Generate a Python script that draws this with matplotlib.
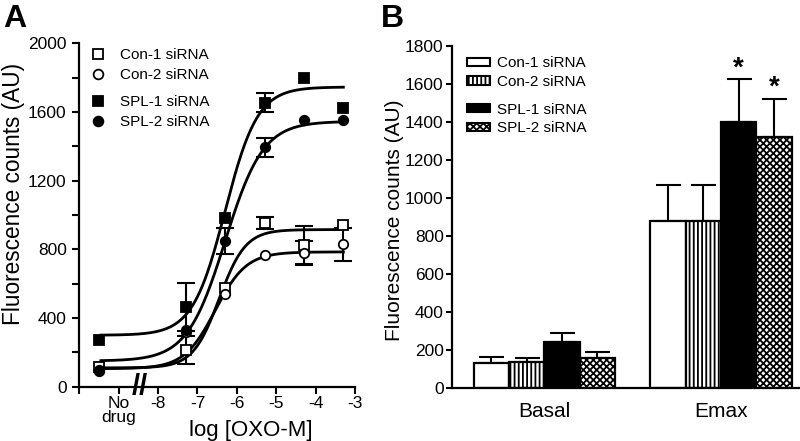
import numpy as np
import matplotlib
matplotlib.use('Agg')
import matplotlib.pyplot as plt
from matplotlib.lines import Line2D
from matplotlib.patches import Patch
from matplotlib.ticker import MultipleLocator

plt.rcParams['font.family'] = ['Liberation Sans', 'DejaVu Sans']
plt.rcParams['hatch.linewidth'] = 1.3

# ---- panel A: concentration-response (x = log [OXO-M], -9.5 = no drug)
log_oxo = [-9.5, -7.3, -6.3, -5.3, -4.3, -3.3]
con1 = [113, 213, 573, 951, 824, 941]
con1_err = [0, 80, 0, 35, 110, 0]
con2 = [100, 320, 539, 766, 776, 829]
con2_err = [0, 0, 0, 0, 70, 96]
spl1 = [272, 466, 980, 1653, 1795, 1620]
spl1_err = [0, 140, 0, 55, 0, 0]
spl2 = [93, 330, 850, 1393, 1552, 1552]
spl2_err = [0, 0, 75, 55, 0, 0]

# sigmoid fit parameters: bottom, top, logEC50, hill
fit_con1 = [110, 915, -6.45, 1.3]
fit_con2 = [105, 785, -6.55, 1.1]
fit_spl1 = [300, 1745, -6.3, 1.05]
fit_spl2 = [150, 1545, -6.3, 0.9]

a_xticks = [-10, -9, -8, -7, -6, -5, -4, -3]
a_xticklabels = ['', 'No\ndrug', '-8', '-7', '-6', '-5', '-4', '-3']

# ---- panel B: basal and Emax
groups = ['Basal', 'Emax']
b_con1 = [132, 875]
b_con1_err = [31, 193]
b_con2 = [137, 875]
b_con2_err = [21, 193]
b_spl1 = [242, 1398]
b_spl1_err = [48, 228]
b_spl2 = [155, 1322]
b_spl2_err = [35, 199]
b_signif = [[False, False], [False, False], [False, True], [False, True]]

labels = ['Con-1 siRNA', 'Con-2 siRNA', 'SPL-1 siRNA', 'SPL-2 siRNA']

fig = plt.figure(figsize=(8, 4.41), dpi=100)
axA = fig.add_axes([0.099, 0.123, 0.345, 0.779])
axB = fig.add_axes([0.565, 0.121, 0.44, 0.775])

for ax in (axA, axB):
    ax.spines['top'].set_visible(False)
    ax.spines['right'].set_visible(False)
    ax.spines['left'].set_linewidth(1.6)
    ax.spines['bottom'].set_linewidth(1.6)

# ---------------- panel A
styles = [
    dict(marker='s', mfc='white'),
    dict(marker='o', mfc='white'),
    dict(marker='s', mfc='black'),
    dict(marker='o', mfc='black'),
]
series = [(con1, con1_err, fit_con1), (con2, con2_err, fit_con2),
          (spl1, spl1_err, fit_spl1), (spl2, spl2_err, fit_spl2)]

xfit = np.linspace(-9.45, -3.3, 300)
for vals, errs, (bot, top, ec50, hill) in series:
    axA.plot(xfit, bot + (top - bot) / (1 + 10 ** ((ec50 - xfit) * hill)),
             color='black', lw=2.0, zorder=2)
for vals, errs, fit in series:
    x = np.array(log_oxo)
    v = np.array(vals, dtype=float)
    e = np.array(errs, dtype=float)
    m = e > 0
    axA.errorbar(x[m], v[m], yerr=e[m], fmt='none', ecolor='black',
                 elinewidth=1.5, capsize=6.5, capthick=1.5, zorder=3)
for (vals, errs, fit), st in zip(series, styles):
    axA.plot(log_oxo, vals, ls='none', mec='black', mew=1.3, ms=6.8,
             zorder=4, **st)

axA.set_xlim(-10, -3)
axA.set_ylim(0, 2000)
axA.set_yticks(range(0, 2001, 400))
axA.yaxis.set_minor_locator(MultipleLocator(200))
axA.set_xticks(a_xticks)
axA.set_xticklabels(a_xticklabels, linespacing=0.9)
axA.tick_params(axis='both', which='major', direction='out', length=5,
                width=1.5, labelsize=12.5)
axA.tick_params(axis='y', which='minor', direction='out', length=5, width=1.5)
axA.tick_params(axis='x', pad=2)
axA.tick_params(axis='y', pad=4)
axA.set_ylabel('Fluorescence counts (AU)', fontsize=16.3)
axA.yaxis.set_label_coords(-0.198, 0.56)
axA.set_xlabel('log [OXO-M]', fontsize=16)
axA.xaxis.set_label_coords(0.623, -0.098)

# axis break mark
axA.text(-8.45, 0, '//', transform=axA.transData, fontsize=21,
         fontweight='bold', ha='center', va='center', clip_on=False)

hA = [Line2D([], [], ls='none', mec='black', mew=1.3, ms=7, **st) for st in styles]
leg1 = axA.legend(hA[:2], labels[:2], loc='upper left',
                  bbox_to_anchor=(0.019, 1.003), frameon=False, fontsize=11,
                  handlelength=1.0, handletextpad=0.9, labelspacing=0.38,
                  borderaxespad=0)
axA.add_artist(leg1)
axA.legend(hA[2:], labels[2:], loc='upper left',
           bbox_to_anchor=(0.019, 0.866), frameon=False, fontsize=11,
           handlelength=1.0, handletextpad=0.9, labelspacing=0.38,
           borderaxespad=0)

# ---------------- panel B
w = 0.2
xg = np.arange(len(groups))
bar_sets = [(b_con1, b_con1_err, 'white', ''),
            (b_con2, b_con2_err, 'white', '||||'),
            (b_spl1, b_spl1_err, 'black', ''),
            (b_spl2, b_spl2_err, 'white', 'xxxxx')]
for i, (vals, errs, fc, hatch) in enumerate(bar_sets):
    xs = xg + (i - 1.5) * w
    axB.bar(xs, vals, width=w, color=fc, edgecolor='black', hatch=hatch,
            lw=1.6, zorder=2)
    axB.errorbar(xs, vals, yerr=[[0] * len(errs), errs], fmt='none',
                 ecolor='black', elinewidth=1.5, capsize=9, capthick=1.5,
                 zorder=1)
    for j in range(len(groups)):
        if b_signif[i][j]:
            axB.text(xs[j], vals[j] + errs[j] - 12, '*', ha='center',
                     va='bottom', fontsize=20, fontweight='bold')

axB.set_xlim(-0.523, 1.47)
axB.set_ylim(0, 1800)
axB.set_yticks(range(0, 1801, 200))
axB.set_xticks(xg)
axB.set_xticklabels(groups)
axB.tick_params(axis='y', direction='out', length=4, width=1.5,
                labelsize=12.5, pad=2)
axB.tick_params(axis='x', length=0, labelsize=15, pad=10)
axB.set_ylabel('Fluorescence counts (AU)', fontsize=15)
axB.yaxis.set_label_coords(-0.135, 0.49)

hB = [Patch(facecolor=fc, edgecolor='black', hatch=h, lw=1.5)
      for (_, _, fc, h) in bar_sets]
leg2 = axB.legend(hB[:2], labels[:2], loc='upper left',
                  bbox_to_anchor=(0.026, 0.988), frameon=False, fontsize=11,
                  handlelength=1.5, handleheight=0.45, handletextpad=0.45,
                  labelspacing=0.32, borderaxespad=0)
axB.add_artist(leg2)
axB.legend(hB[2:], labels[2:], loc='upper left',
           bbox_to_anchor=(0.026, 0.852), frameon=False, fontsize=11,
           handlelength=1.5, handleheight=0.45, handletextpad=0.45,
           labelspacing=0.32, borderaxespad=0)

fig.text(0.004, 0.99, 'A', fontsize=23, fontweight='bold', va='top', ha='left')
fig.text(0.476, 0.99, 'B', fontsize=23, fontweight='bold', va='top', ha='left')

fig.savefig('out.png', dpi=100)
